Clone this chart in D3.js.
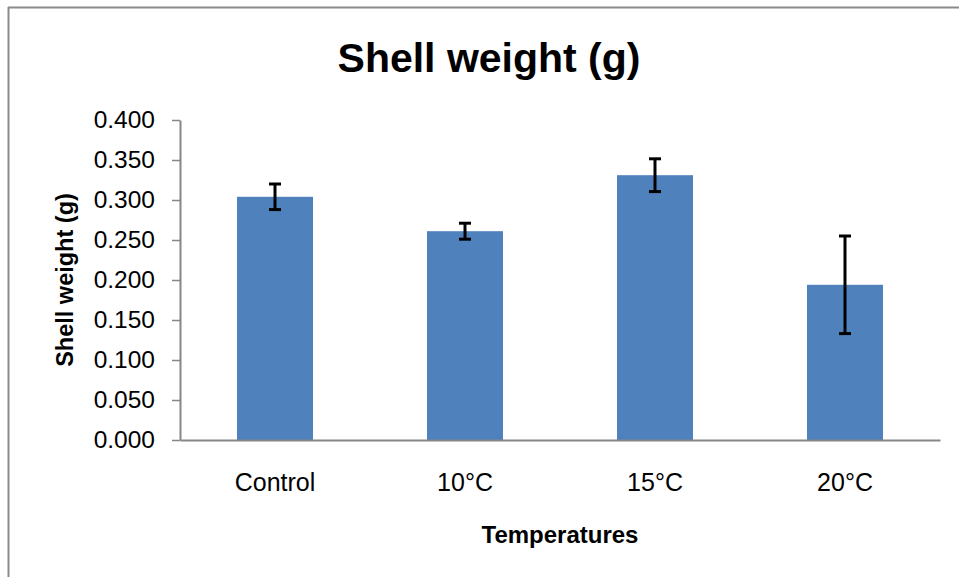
<!DOCTYPE html>
<html>
<head>
<meta charset="utf-8">
<script src="https://cdn.jsdelivr.net/npm/d3@7"></script>
<style>
  body { margin: 0; background: #fff; }
  text { font-family: "Liberation Sans Narrow", "Arial Narrow", "Liberation Sans", sans-serif; }
</style>
</head>
<body>
<svg id="chart" width="959" height="577"></svg>
<script>
// chart data
const categories = ['Control', '10\u00B0C', '15\u00B0C', '20\u00B0C'];
const means = [0.304, 0.261, 0.331, 0.194];
const errors = [0.016, 0.010, 0.0205, 0.061];
const yTicks = [0, 0.05, 0.1, 0.15, 0.2, 0.25, 0.3, 0.35, 0.4];

const data = categories.map((c, i) => ({ cat: c, mean: means[i], err: errors[i] }));

const svg = d3.select('#chart');
const plotLeft = 180;
const plotRight = 940;
const plotTop = 120;
const plotBottom = 440;

// frame of the pasted chart
svg.append('line')
  .attr('x1', 8).attr('x2', 959).attr('y1', 7.5).attr('y2', 7.5)
  .attr('stroke', '#8a8a8a').attr('stroke-width', 2);
svg.append('line')
  .attr('x1', 8.5).attr('x2', 8.5).attr('y1', 7).attr('y2', 577)
  .attr('stroke', '#8a8a8a').attr('stroke-width', 2);

const x = d3.scaleBand()
  .domain(categories)
  .range([plotLeft, plotRight])
  .paddingInner(0.6)
  .paddingOuter(0.3);

const y = d3.scaleLinear()
  .domain([0, 0.4])
  .range([plotBottom, plotTop]);

// bars
svg.selectAll('rect.bar')
  .data(data)
  .enter()
  .append('rect')
  .attr('class', 'bar')
  .attr('x', (d) => x(d.cat))
  .attr('y', (d) => y(d.mean))
  .attr('width', x.bandwidth())
  .attr('height', (d) => y(0) - y(d.mean))
  .attr('fill', '#4F81BD');

// y axis
const yAxis = svg.append('g')
  .attr('transform', `translate(${plotLeft},0)`)
  .call(d3.axisLeft(y).tickValues(yTicks).tickFormat(d3.format('.3f')).tickSize(8).tickSizeOuter(0));
yAxis.select('.domain').attr('stroke', '#868686').attr('stroke-width', 2);
yAxis.selectAll('.tick line').attr('stroke', '#868686').attr('stroke-width', 1.5);
yAxis.selectAll('.tick text')
  .attr('x', -25)
  .attr('fill', '#000')
  .style('font-size', '24.5px');

// x axis
const xAxis = svg.append('g')
  .attr('transform', `translate(0,${plotBottom})`)
  .call(d3.axisBottom(x).tickSize(0).tickSizeOuter(0));
xAxis.select('.domain').attr('stroke', '#868686').attr('stroke-width', 2);
xAxis.selectAll('.tick text')
  .attr('y', 33)
  .attr('fill', '#000')
  .style('font-size', '25px');

// error bars
const eb = svg.selectAll('g.err')
  .data(data)
  .enter()
  .append('g')
  .attr('class', 'err')
  .attr('stroke', '#000')
  .attr('stroke-width', 3);
const cx = (d) => x(d.cat) + x.bandwidth() / 2;
eb.append('line')
  .attr('x1', cx).attr('x2', cx)
  .attr('y1', (d) => y(d.mean + d.err))
  .attr('y2', (d) => y(d.mean - d.err));
eb.append('line')
  .attr('x1', (d) => cx(d) - 6).attr('x2', (d) => cx(d) + 6)
  .attr('y1', (d) => y(d.mean + d.err))
  .attr('y2', (d) => y(d.mean + d.err));
eb.append('line')
  .attr('x1', (d) => cx(d) - 6).attr('x2', (d) => cx(d) + 6)
  .attr('y1', (d) => y(d.mean - d.err))
  .attr('y2', (d) => y(d.mean - d.err));

// titles
svg.append('text')
  .attr('x', 489).attr('y', 72)
  .attr('text-anchor', 'middle')
  .style('font-size', '41px')
  .style('font-weight', 'bold')
  .text('Shell weight (g)');

svg.append('text')
  .attr('transform', 'translate(73,280) rotate(-90)')
  .attr('text-anchor', 'middle')
  .style('font-size', '23.5px')
  .style('font-weight', 'bold')
  .text('Shell weight (g)');

svg.append('text')
  .attr('x', 560).attr('y', 543)
  .attr('text-anchor', 'middle')
  .style('font-size', '24px')
  .style('font-weight', 'bold')
  .text('Temperatures');
</script>
</body>
</html>
